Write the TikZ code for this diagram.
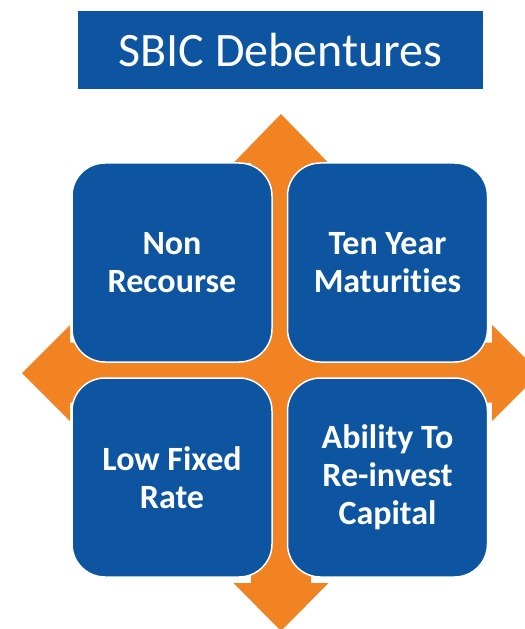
\documentclass[tikz,border=0pt]{standalone}
\usepackage{fontspec}
\setmainfont{Carlito}[Ligatures=NoCommon]
\definecolor{sbicblue}{RGB}{13,85,160}
\definecolor{sbicorange}{RGB}{242,131,34}

\begin{document}
\begin{tikzpicture}[x=1bp, y=-1bp,
        tile/.style={draw=white, line width=1.5bp, fill=sbicblue, rounded corners=33bp,
            minimum width=200bp, minimum height=199bp, align=center, text=white,
            font=\fontsize{34bp}{38bp}\selectfont\bfseries}]
        \clip (0,0) rectangle (525,629);
        % title bar
        \node[fill=sbicblue, text=white, minimum width=405bp, minimum height=78bp,
            font=\fontsize{48bp}{56bp}\selectfont] (title) at (280.5,50) {SBIC Debentures};
        % four-way arrow behind the tiles
        \fill[sbicorange] (281,114) -- (328.5,163) -- (311,163) -- (311,342.5) -- (492,342.5)
            -- (492,325) -- (540,373) -- (492,421) -- (492,402.5) -- (311,402.5) -- (311,583)
            -- (328.5,583) -- (281,631) -- (233.5,583) -- (251,583) -- (251,402.5) -- (70,402.5)
            -- (70,421) -- (22,373) -- (70,325) -- (70,342.5) -- (251,342.5) -- (251,163)
            -- (233.5,163) -- cycle;
        % tiles
        \node[tile] (nonrec) at (172,262.5) {Non\\Recourse};
        \node[tile] (tenyear) at (387.5,262.5) {Ten Year\\Maturities};
        \node[tile] (lowrate) at (172,477.5) {Low Fixed\\Rate};
        \node[tile] (reinvest) at (387.5,477.5) {Ability To\\Re-invest\\Capital};
    \end{tikzpicture}
\end{document}
